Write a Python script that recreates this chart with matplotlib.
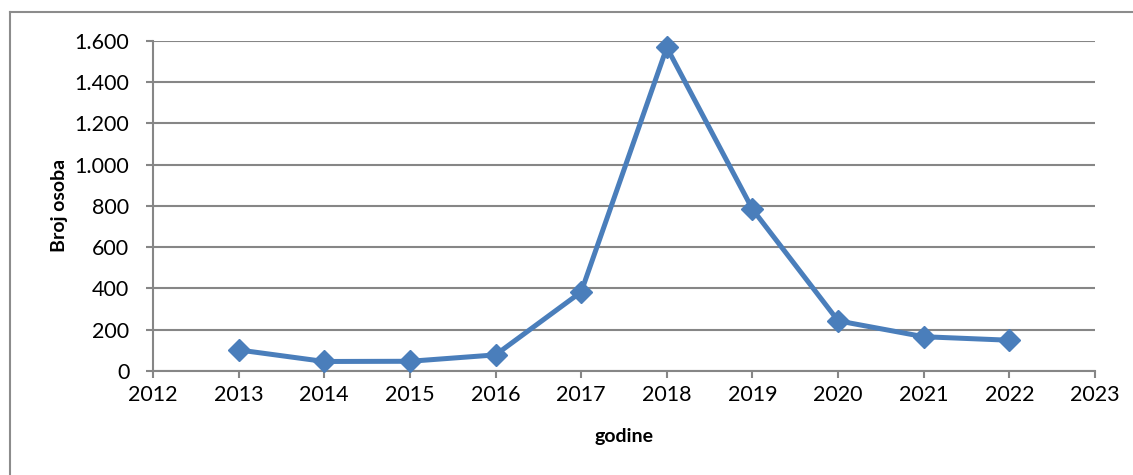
import matplotlib.pyplot as plt
from matplotlib.lines import Line2D

years = [2013, 2014, 2015, 2016, 2017, 2018, 2019, 2020, 2021, 2022]
persons = [102, 46, 47, 78, 383, 1568, 784, 243, 166, 149]
y_ticks = [0, 200, 400, 600, 800, 1000, 1200, 1400, 1600]
y_labels = ['0', '200', '400', '600', '800', '1.000', '1.200', '1.400', '1.600']
x_ticks = list(range(2012, 2024))

plt.rcParams['font.family'] = ['Lato', 'DejaVu Sans']

fig = plt.figure(figsize=(11.33, 4.75), dpi=100)
ax = fig.add_axes([0.135, 0.219, 0.8315, 0.695])

grid_col = '#868686'
ax.plot(years, persons, color='#4A7EBB', lw=3.6, marker='D', markersize=11.5,
        zorder=3, clip_on=False)

ax.set_xlim(2012, 2023)
ax.set_ylim(0, 1600)
ax.set_yticks(y_ticks)
ax.set_yticklabels(y_labels)
ax.set_xticks(x_ticks)
ax.set_xticklabels([str(x) for x in x_ticks])
ax.yaxis.grid(True, color=grid_col, lw=1.5)
ax.set_axisbelow(True)

for s in ['top', 'right']:
    ax.spines[s].set_visible(False)
for s in ['left', 'bottom']:
    ax.spines[s].set_color(grid_col)
    ax.spines[s].set_linewidth(1.5)
ax.tick_params(axis='both', colors=grid_col, width=1.5, length=5,
               labelcolor='black', labelsize=15.5)
ax.tick_params(axis='y', pad=12)
ax.tick_params(axis='x', pad=5)

ax.set_ylabel('Broj osoba', fontsize=14, fontweight='bold', labelpad=5)
ax.set_xlabel('godine', fontsize=14, fontweight='bold', labelpad=17)

# frame around the chart area (left and top edges visible)
fig.add_artist(Line2D([10 / 1133, 10 / 1133], [0, 1 - 12 / 475],
                      transform=fig.transFigure, color='#8c8c8c', lw=1.5))
fig.add_artist(Line2D([10 / 1133, 1], [1 - 12 / 475, 1 - 12 / 475],
                      transform=fig.transFigure, color='#8c8c8c', lw=1.5))

fig.savefig('out.png', dpi=100)
